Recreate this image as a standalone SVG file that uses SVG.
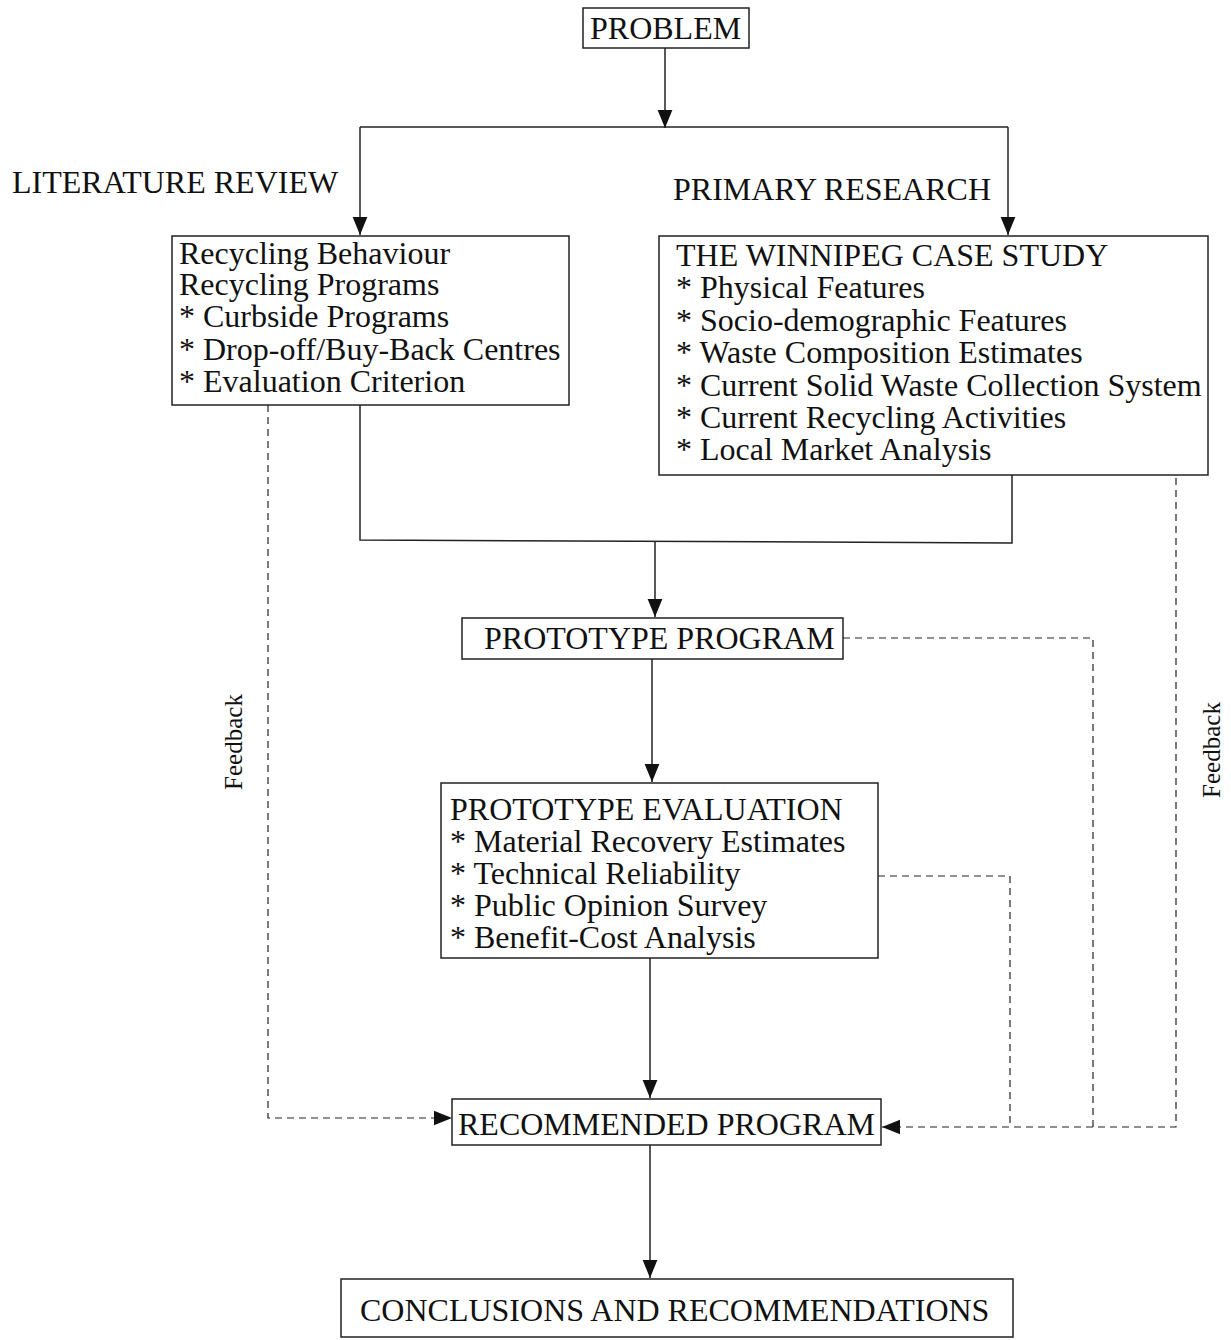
<svg xmlns="http://www.w3.org/2000/svg" width="1231" height="1340" viewBox="0 0 1231 1340">
<style>
text{font-family:"Liberation Serif","Times New Roman",serif;font-size:32px;fill:#111}
.box{fill:#fff;stroke:#222;stroke-width:1.5}
.ln{fill:none;stroke:#222;stroke-width:1.5}
.dash{fill:none;stroke:#222;stroke-width:1.2;stroke-dasharray:7 5}
.fb{font-size:25px}
</style>
<defs>
<marker id="ah" markerUnits="userSpaceOnUse" markerWidth="18" markerHeight="24" viewBox="0 0 22 18" refX="22" refY="9" orient="auto">
<path d="M0,0 L22,9 L0,18 Z" fill="#111"/>
</marker>
</defs>
<rect width="1231" height="1340" fill="#fff"/>
<g id="connectors">
<line class="ln" x1="665" y1="48" x2="665" y2="128" marker-end="url(#ah)"/>
<polyline class="ln" points="360,127 1008,127"/>
<line class="ln" x1="360" y1="127" x2="360" y2="235" marker-end="url(#ah)"/>
<line class="ln" x1="1008" y1="127" x2="1008" y2="235" marker-end="url(#ah)"/>
<polyline class="ln" points="360,405 360,540 1012,543 1012,475"/>
<line class="ln" x1="655" y1="541" x2="655" y2="617" marker-end="url(#ah)"/>
<line class="ln" x1="652" y1="659" x2="652" y2="782" marker-end="url(#ah)"/>
<line class="ln" x1="650" y1="958" x2="650" y2="1098" marker-end="url(#ah)"/>
<line class="ln" x1="650" y1="1145" x2="650" y2="1278" marker-end="url(#ah)"/>
<polyline class="dash" points="268,405 268,1118 452,1118" marker-end="url(#ah)"/>
<polyline class="dash" points="843,638 1093,638 1093,1127"/>
<polyline class="dash" points="878,876 1010,876 1010,1127"/>
<polyline class="dash" points="1176,478 1176,1127 882,1127" marker-end="url(#ah)"/>
</g>
<g id="problem">
<rect class="box" x="583" y="8" width="166" height="40"/>
<text x="590" y="39">PROBLEM</text>
</g>
<g id="literature-review-label"><text x="12" y="193">LITERATURE REVIEW</text></g>
<g id="primary-research-label"><text x="673" y="200">PRIMARY RESEARCH</text></g>
<g id="literature-box">
<rect class="box" x="172" y="236" width="397" height="169"/>
<text x="179" y="264">Recycling Behaviour</text>
<text x="179" y="295">Recycling Programs</text>
<text x="179" y="327">* Curbside Programs</text>
<text x="179" y="360">* Drop-off/Buy-Back Centres</text>
<text x="179" y="392">* Evaluation Criterion</text>
</g>
<g id="winnipeg-box">
<rect class="box" x="659" y="236" width="549" height="239"/>
<text x="676" y="266">THE WINNIPEG CASE STUDY</text>
<text x="676" y="298">* Physical Features</text>
<text x="676" y="331">* Socio-demographic Features</text>
<text x="676" y="363">* Waste Composition Estimates</text>
<text x="676" y="396">* Current Solid Waste Collection System</text>
<text x="676" y="428">* Current Recycling Activities</text>
<text x="676" y="460">* Local Market Analysis</text>
</g>
<g id="prototype-program">
<rect class="box" x="462" y="618" width="381" height="41"/>
<text x="484" y="649">PROTOTYPE PROGRAM</text>
</g>
<g id="prototype-evaluation">
<rect class="box" x="441" y="783" width="437" height="175"/>
<text x="450" y="820">PROTOTYPE EVALUATION</text>
<text x="450" y="852">* Material Recovery Estimates</text>
<text x="450" y="884">* Technical Reliability</text>
<text x="450" y="916">* Public Opinion Survey</text>
<text x="450" y="948">* Benefit-Cost Analysis</text>
</g>
<g id="recommended-program">
<rect class="box" x="452" y="1099" width="429" height="46"/>
<text x="458" y="1135">RECOMMENDED PROGRAM</text>
</g>
<g id="conclusions">
<rect class="box" x="341" y="1279" width="672" height="58"/>
<text x="360" y="1321">CONCLUSIONS AND RECOMMENDATIONS</text>
</g>
<g id="feedback-left"><text class="fb" transform="translate(242,742) rotate(-90)" text-anchor="middle">Feedback</text></g>
<g id="feedback-right"><text class="fb" transform="translate(1220,750) rotate(-90)" text-anchor="middle">Feedback</text></g>
</svg>
